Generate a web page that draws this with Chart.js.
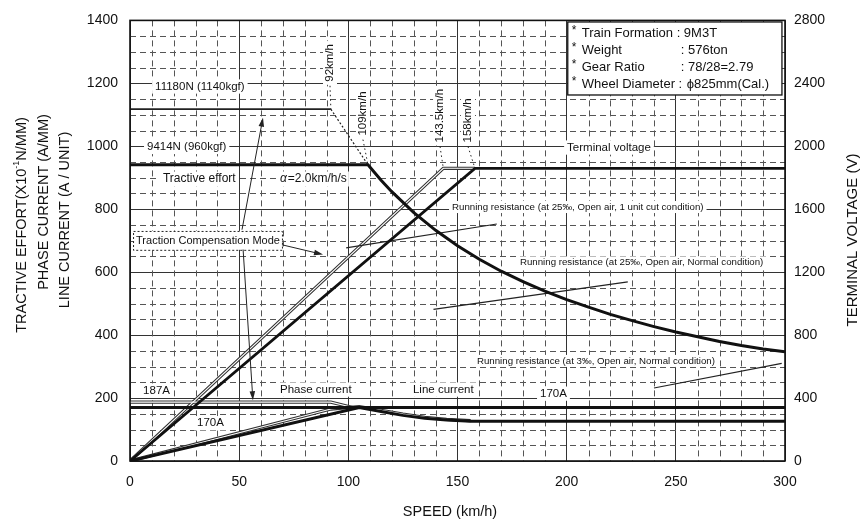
<!DOCTYPE html>
<html>
<head>
<meta charset="utf-8">
<script src="https://cdn.jsdelivr.net/npm/chart.js"></script>
<style>
  html, body { margin: 0; padding: 0; background: #fff; }
</style>
</head>
<body>
<canvas id="chart" width="866" height="523"></canvas>
<script>
const F = '"Liberation Sans", Arial, Helvetica, sans-serif';

// speed in km/h; left axis = TE (x10^-1 N/MM) and currents (A), right axis = volts
const teSpeed = [0, 109, 115, 120, 130, 140, 150, 160, 170, 180, 190, 200, 210, 220, 230, 240, 250, 260, 270, 280, 290, 300];
const teValue = [941, 941, 892, 855, 789, 733, 684, 641, 603, 570, 540, 513, 489, 466, 446, 427, 410, 395, 380, 367, 356, 347];
const teCompSpeed = [0, 92];
const teCompValue = [1118, 1118];
const teDropSpeed = [92, 109];
const teDropValue = [1118, 941];

const voltSpeed = [0, 158, 300];
const voltValue = [0, 1860, 1860];
const voltCompSpeed = [0, 143.5, 158];
const voltCompValue = [0, 1860, 1860];

const phaseSpeed = [0, 300];
const phaseValue = [170, 170];
const phaseCompSpeed = [0, 92, 102];
const phaseCompValue = [187, 187, 170];

const lineSpeed = [0, 105, 115, 125, 135, 145, 156, 300];
const lineValue = [0, 170, 157, 145, 136, 130, 126, 126];
const lineCompSpeed = [0, 92, 105, 115, 125, 135, 145, 156];
const lineCompValue = [0, 165, 173, 161, 149, 139, 132, 128];

const rrCutSpeed = [99, 168];
const rrCutValue = [677, 753];
const rr25Speed = [139, 228];
const rr25Value = [482, 569];
const rr3Speed = [240, 298.5];
const rr3Value = [232, 310];

const xTicks = [0, 50, 100, 150, 200, 250, 300];
const yTicks = [0, 200, 400, 600, 800, 1000, 1200, 1400];
const y1Ticks = [0, 400, 800, 1200, 1600, 2000, 2400, 2800];

const pts = (xs, ys) => xs.map((x, i) => ({ x, y: ys[i] }));

function line(xs, ys, color, width, extra) {
  return Object.assign({
    data: pts(xs, ys), borderColor: color, borderWidth: width,
    pointRadius: 0, fill: false, tension: 0, yAxisID: 'y', order: 0
  }, extra || {});
}
// thin series look hollow in the print: dark wide stroke with a white core
function hollow(xs, ys, axis) {
  return [
    line(xs, ys, '#fff', 1.1, { yAxisID: axis || 'y', order: 2 }),
    line(xs, ys, '#333', 3.2, { yAxisID: axis || 'y', order: 3 })
  ];
}

const notes = [
  { text: '11180N (1140kgf)', x: 11.5, y: 1190, size: 11.5 },
  { text: '9414N (960kgf)', x: 7.8, y: 998, size: 11.5 },
  { text: 'Tractive effort', x: 15.1, y: 896, size: 12 },
  { text: 'Terminal voltage', x: 200.2, y: 996, size: 11.5 },
  { text: 'Running resistance (at 25\u2030, Open air, 1 unit cut condition)', x: 147.5, y: 807, size: 9.7 },
  { text: 'Running resistance (at 25\u2030, Open air, Normal condition)', x: 178.6, y: 631, size: 9.7 },
  { text: 'Running resistance (at 3\u2030, Open air, Normal condition)', x: 158.9, y: 318, size: 9.7 },
  { text: '187A', x: 6, y: 224, size: 11.5 },
  { text: 'Phase current', x: 68.7, y: 227, size: 11.5 },
  { text: 'Line current', x: 129.6, y: 227, size: 11.5 },
  { text: '170A', x: 30.7, y: 120, size: 11.5 },
  { text: '170A', x: 187.8, y: 214, size: 11.5 }
];

const marks = [
  { text: '92km/h', lx: 91.6, ly: 1205, sx: 92, sy: 1118 },
  { text: '109km/h', lx: 106.7, ly: 1034, sx: 109, sy: 941 },
  { text: '143.5km/h', lx: 142, ly: 1012, sx: 143.5, sy: 930 },
  { text: '158km/h', lx: 154.8, ly: 1012, sx: 158, sy: 930 }
];

const arrows = [
  [51.3, 735, 60.9, 1091],
  [69.6, 687, 88.4, 656],
  [51.8, 672, 56.3, 193]
];

function tag(ctx, text, px, py, size) {
  ctx.font = size + 'px ' + F;
  const w = ctx.measureText(text).width;
  ctx.fillStyle = '#fff';
  ctx.fillRect(px - 3, py - size * 0.62, w + 6, size * 1.24);
  ctx.fillStyle = '#111';
  ctx.textAlign = 'left';
  ctx.textBaseline = 'middle';
  ctx.fillText(text, px, py);
}

function arrow(ctx, x1, y1, x2, y2) {
  const a = Math.atan2(y2 - y1, x2 - x1), L = 9, W = 2.8;
  const c = Math.cos(a), s = Math.sin(a);
  ctx.beginPath();
  ctx.moveTo(x1, y1);
  ctx.lineTo(x2 - L * 0.7 * c, y2 - L * 0.7 * s);
  ctx.stroke();
  ctx.beginPath();
  ctx.moveTo(x2, y2);
  ctx.lineTo(x2 - L * c + W * s, y2 - L * s - W * c);
  ctx.lineTo(x2 - L * c - W * s, y2 - L * s + W * c);
  ctx.closePath();
  ctx.fill();
}

const overlay = {
  id: 'overlay',
  beforeDatasetsDraw(chart) {
    const { ctx, chartArea: a, scales: { x, y } } = chart;
    ctx.save();
    // dashed minor grid
    ctx.strokeStyle = '#555';
    ctx.lineWidth = 1;
    ctx.setLineDash([6, 4]);
    ctx.beginPath();
    for (let v = 10; v < 300; v += 10) {
      if (v % 50 === 0) continue;
      const px = Math.round(x.getPixelForValue(v)) + 0.5;
      ctx.moveTo(px, a.top); ctx.lineTo(px, a.bottom);
    }
    for (let v = 50; v < 1400; v += 50) {
      if (v % 200 === 0) continue;
      const py = Math.round(y.getPixelForValue(v)) + 0.5;
      ctx.moveTo(a.left, py); ctx.lineTo(a.right, py);
    }
    ctx.stroke();
    ctx.setLineDash([]);

    notes.forEach(n => tag(ctx, n.text, x.getPixelForValue(n.x), y.getPixelForValue(n.y), n.size));

    // alpha label, greek letter in italics
    const ax = x.getPixelForValue(68.7), ay = y.getPixelForValue(896);
    ctx.font = '12px ' + F;
    const rest = '=2.0km/h/s';
    const w2 = ctx.measureText(rest).width;
    ctx.font = 'italic 12px ' + F;
    const w1 = ctx.measureText('\u03b1').width;
    ctx.fillStyle = '#fff';
    ctx.fillRect(ax - 3, ay - 7.5, w1 + w2 + 6, 15);
    ctx.fillStyle = '#111';
    ctx.textBaseline = 'middle';
    ctx.textAlign = 'left';
    ctx.fillText('\u03b1', ax, ay);
    ctx.font = '12px ' + F;
    ctx.fillText(rest, ax + w1 + 1, ay);

    // traction compensation mode box
    const b1 = x.getPixelForValue(1.4), b2 = x.getPixelForValue(69.6);
    const t1 = y.getPixelForValue(731), t2 = y.getPixelForValue(671);
    ctx.fillStyle = '#fff';
    ctx.fillRect(b1, t1, b2 - b1, t2 - t1);
    ctx.strokeStyle = '#222';
    ctx.setLineDash([2, 2]);
    ctx.strokeRect(b1 + 0.5, t1 + 0.5, b2 - b1, t2 - t1);
    ctx.setLineDash([]);
    ctx.fillStyle = '#111';
    ctx.font = '11px ' + F;
    ctx.fillText('Traction Compensation Mode', b1 + 3, (t1 + t2) / 2 + 0.5);
    ctx.restore();
  },
  afterDatasetsDraw(chart) {
    const { ctx, chartArea: a, scales: { x, y } } = chart;
    ctx.save();
    ctx.strokeStyle = '#222';
    ctx.fillStyle = '#222';
    ctx.lineWidth = 1;
    arrows.forEach(r => arrow(ctx, x.getPixelForValue(r[0]), y.getPixelForValue(r[1]),
      x.getPixelForValue(r[2]), y.getPixelForValue(r[3])));

    // speed markers
    marks.forEach(m => {
      const px = x.getPixelForValue(m.lx), py = y.getPixelForValue(m.ly);
      ctx.font = '11.5px ' + F;
      const w = ctx.measureText(m.text).width;
      ctx.save();
      ctx.translate(px, py);
      ctx.rotate(-Math.PI / 2);
      ctx.fillStyle = '#fff';
      ctx.fillRect(-3, -7, w + 6, 14);
      ctx.fillStyle = '#111';
      ctx.textAlign = 'left';
      ctx.textBaseline = 'middle';
      ctx.fillText(m.text, 0, 0);
      ctx.restore();
      ctx.setLineDash([1.5, 3]);
      ctx.beginPath();
      ctx.moveTo(px, py + 4);
      ctx.lineTo(x.getPixelForValue(m.sx), y.getPixelForValue(m.sy));
      ctx.stroke();
      ctx.setLineDash([]);
    });

    // spec box
    const bx1 = x.getPixelForValue(200.5), bx2 = x.getPixelForValue(298.6);
    const by1 = y.getPixelForValue(1395), by2 = y.getPixelForValue(1163);
    ctx.fillStyle = '#fff';
    ctx.fillRect(bx1, by1, bx2 - bx1, by2 - by1);
    ctx.lineWidth = 1.3;
    ctx.strokeStyle = '#111';
    ctx.strokeRect(bx1, by1, bx2 - bx1, by2 - by1);
    const rows = [
      ['Train Formation : 9M3T', ''],
      ['Weight', ': 576ton'],
      ['Gear Ratio', ': 78/28=2.79'],
      ['Wheel Diameter :', '\u03d5825mm(Cal.)']
    ];
    ctx.fillStyle = '#111';
    ctx.textBaseline = 'middle';
    ctx.textAlign = 'left';
    rows.forEach((r, i) => {
      const ry = by1 + 11 + i * 17;
      ctx.font = '12px ' + F;
      ctx.fillText('*', bx1 + 4, ry - 2);
      ctx.font = '13px ' + F;
      ctx.fillText(r[0], bx1 + 14, ry);
      if (r[1]) ctx.fillText(r[1], bx1 + (i === 3 ? 119 : 113), ry);
    });

    // frame
    ctx.lineWidth = 1.6;
    ctx.strokeStyle = '#111';
    ctx.strokeRect(a.left, a.top, a.right - a.left, a.bottom - a.top);
    ctx.restore();
  },
  afterDraw(chart) {
    const { ctx } = chart;
    ctx.save();
    ctx.fillStyle = '#111';
    ctx.textBaseline = 'middle';
    const vt = (text, cx, cy, size) => {
      ctx.save();
      ctx.translate(cx, cy);
      ctx.rotate(-Math.PI / 2);
      ctx.font = size + 'px ' + F;
      ctx.textAlign = 'center';
      ctx.fillText(text, 0, 0);
      ctx.restore();
    };
    // first left title line carries a superscript
    ctx.save();
    ctx.translate(22, 225);
    ctx.rotate(-Math.PI / 2);
    ctx.font = '14.5px ' + F;
    const p1 = 'TRACTIVE EFFORT(X10', p3 = 'N/MM)';
    const w1 = ctx.measureText(p1).width, w3 = ctx.measureText(p3).width;
    ctx.font = '9px ' + F;
    const w2 = ctx.measureText('-1').width;
    const sx = -(w1 + w2 + w3) / 2;
    ctx.textAlign = 'left';
    ctx.font = '14.5px ' + F;
    ctx.fillText(p1, sx, 0);
    ctx.font = '9px ' + F;
    ctx.fillText('-1', sx + w1, -5);
    ctx.font = '14.5px ' + F;
    ctx.fillText(p3, sx + w1 + w2, 0);
    ctx.restore();
    vt('PHASE CURRENT (A/MM)', 43.5, 202, 14.5);
    vt('LINE CURRENT (A / UNIT)', 65, 220, 14.5);
    vt('TERMINAL VOLTAGE (V)', 853, 240, 15);
    ctx.font = '14.5px ' + F;
    ctx.textAlign = 'center';
    ctx.fillText('SPEED (km/h)', 450, 512);
    ctx.restore();
  }
};

Chart.defaults.font.family = F;
Chart.defaults.font.size = 14;
Chart.defaults.color = '#111';

const plain = v => String(v);

new Chart(document.getElementById('chart'), {
  type: 'line',
  data: {
    datasets: [
      line(teSpeed, teValue, '#111', 3),
      line(teCompSpeed, teCompValue, '#222', 1.8),
      line(teDropSpeed, teDropValue, '#222', 1.2, { borderDash: [2, 2] }),
      line(voltSpeed, voltValue, '#111', 2.8, { yAxisID: 'y1' }),
      ...hollow(voltCompSpeed, voltCompValue, 'y1'),
      line(phaseSpeed, phaseValue, '#111', 3),
      ...hollow(phaseCompSpeed, phaseCompValue),
      line(lineSpeed, lineValue, '#111', 3),
      ...hollow(lineCompSpeed, lineCompValue),
      line(rrCutSpeed, rrCutValue, '#222', 1.2),
      line(rr25Speed, rr25Value, '#222', 1.2),
      line(rr3Speed, rr3Value, '#222', 1.2)
    ]
  },
  options: {
    responsive: false,
    animation: false,
    layout: { padding: { top: 17, left: 0, right: 0, bottom: 0 } },
    plugins: { legend: { display: false }, tooltip: { enabled: false } },
    scales: {
      x: {
        type: 'linear', min: 0, max: 300,
        afterBuildTicks: s => { s.ticks = xTicks.map(v => ({ value: v })); },
        afterFit: s => { s.height = 62; },
        grid: { color: '#333', lineWidth: 1, drawTicks: false },
        border: { display: false },
        ticks: { padding: 13, maxRotation: 0, callback: plain }
      },
      y: {
        type: 'linear', position: 'left', min: 0, max: 1400,
        afterBuildTicks: s => { s.ticks = yTicks.map(v => ({ value: v })); },
        afterFit: s => { s.width = 130; },
        grid: { color: '#333', lineWidth: 1, drawTicks: false },
        border: { display: false },
        ticks: { padding: 12, callback: plain }
      },
      y1: {
        type: 'linear', position: 'right', min: 0, max: 2800,
        afterBuildTicks: s => { s.ticks = y1Ticks.map(v => ({ value: v })); },
        afterFit: s => { s.width = 81; },
        grid: { drawOnChartArea: false, drawTicks: false },
        border: { display: false },
        ticks: { padding: 9, callback: plain }
      }
    }
  },
  plugins: [overlay]
});
</script>
</body>
</html>
